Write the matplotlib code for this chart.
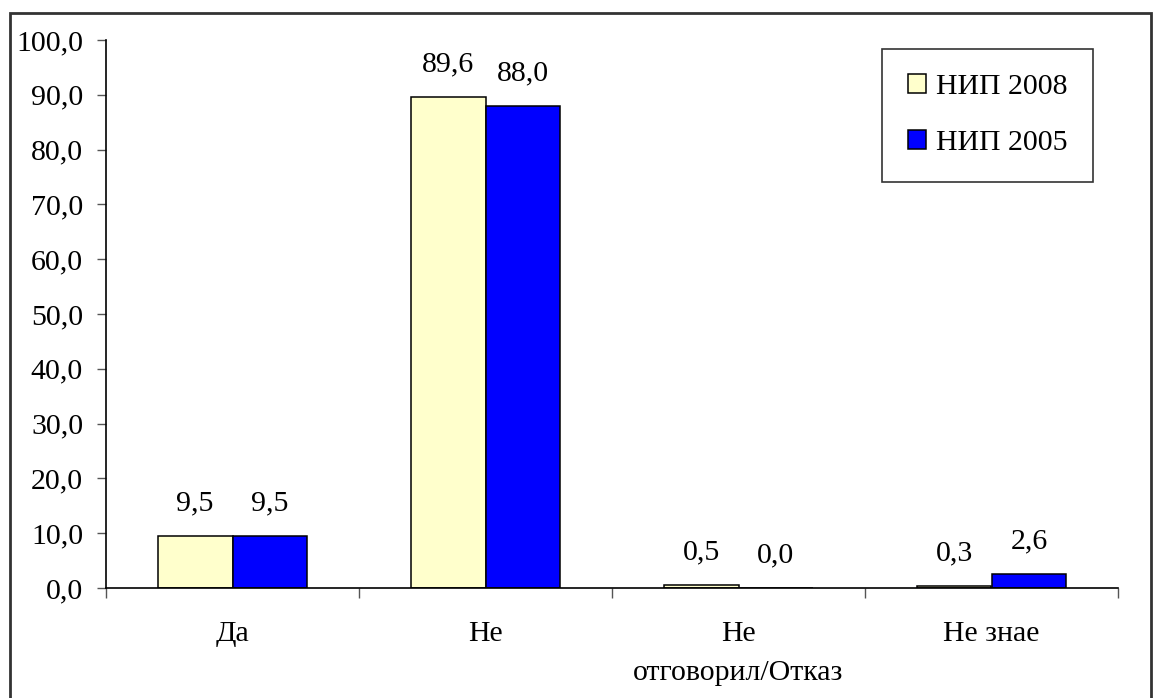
import matplotlib
matplotlib.use("Agg")
import matplotlib.pyplot as plt
from matplotlib.patches import Rectangle
import numpy as np

categories = ["Да", "Не", "Не\nотговорил/Отказ", "Не знае"]
nip_2008 = [9.5, 89.6, 0.5, 0.3]
nip_2005 = [9.5, 88.0, 0.0, 2.6]
series_names = ["НИП 2008", "НИП 2005"]
colors = ["#FFFFCC", "#0000FF"]

plt.rcParams["font.family"] = ["Liberation Serif", "DejaVu Serif"]
plt.rcParams["font.size"] = 21.5

fig = plt.figure(figsize=(11.54, 6.98), dpi=100)
ax = fig.add_axes([106 / 1154, 1 - 588 / 698, (1118 - 106) / 1154, (588 - 40) / 698])

# outer chart frame
fig.patches.append(Rectangle((10 / 1154, -0.01), (1151 - 10) / 1154, 1 - 13 / 698 + 0.01,
                             transform=fig.transFigure, fill=False,
                             edgecolor="#333333", linewidth=2))

x = np.arange(len(categories))
w = 0.296
for i, (vals, name, c) in enumerate(zip([nip_2008, nip_2005], series_names, colors)):
    pos = x + (i - 0.5) * w
    ax.bar(pos, vals, width=w, color=c, edgecolor="black", linewidth=1.1, label=name)
    for p, v in zip(pos, vals):
        ax.annotate(f"{v:.1f}".replace(".", ","), (p, v), xytext=(0, 23.5),
                    textcoords="offset points", ha="center", va="center")

ax.set_xlim(-0.5, len(categories) - 0.5)
ax.set_ylim(0, 100)
ax.set_yticks(np.arange(0, 101, 10))
ax.set_yticklabels([f"{t:.1f}".replace(".", ",") for t in np.arange(0, 101, 10)])
ax.set_xticks(np.arange(-0.5, len(categories), 1.0))
ax.set_xticklabels([])
ax.set_xticks(x, minor=True)
ax.set_xticklabels(categories, minor=True, linespacing=1.65)
ax.tick_params(axis="x", which="minor", length=0, pad=24)
ax.tick_params(axis="x", which="major", length=7, width=1, color="#555555")
ax.tick_params(axis="y", length=6.5, width=1, color="#555555", pad=10)

for s in ["top", "right"]:
    ax.spines[s].set_visible(False)
ax.spines["left"].set_linewidth(1.2)
ax.spines["bottom"].set_linewidth(1.2)

leg = ax.legend(loc="upper right", bbox_to_anchor=(1093 / 1154, 1 - 49 / 698),
                bbox_transform=fig.transFigure, frameon=True, fancybox=False,
                handlelength=0.6, handleheight=0.6, handletextpad=0.35,
                labelspacing=1.0, borderpad=0.85, borderaxespad=0)
leg.get_frame().set_edgecolor("black")
leg.get_frame().set_linewidth(1.2)

fig.savefig("out.png", dpi=100)
